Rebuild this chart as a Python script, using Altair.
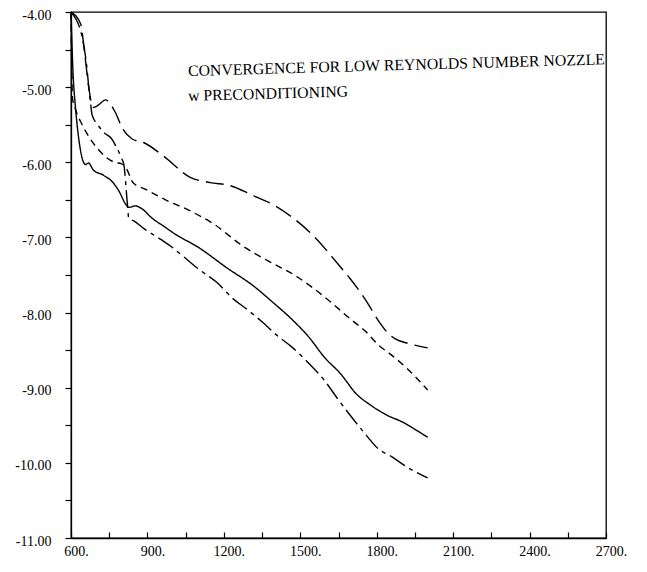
import altair as alt
import pandas as pd

# ---- data ----
long_it = [600, 638, 654, 670, 687, 707, 735, 773, 802, 840, 887, 964, 1068, 1146, 1224,
           1313, 1402, 1479, 1555, 1647, 1696, 1760, 1809, 1846, 1873, 1924, 2000]
long_res = [-4.0, -4.16, -4.56, -5.01, -5.27, -5.24, -5.17, -5.33, -5.55, -5.69, -5.74, -5.92,
            -6.20, -6.27, -6.31, -6.44, -6.58, -6.76, -6.99, -7.35, -7.55, -7.85, -8.12,
            -8.28, -8.35, -8.41, -8.47]

short_it = [600, 606, 618, 644, 674, 705, 744, 771, 799, 817, 843, 893, 971, 1064, 1164,
            1268, 1372, 1472, 1549, 1626, 1691, 1756, 1806, 1856, 1921, 2000]
short_res = [-4.0, -5.15, -5.30, -5.50, -5.68, -5.82, -5.95, -6.00, -6.02, -6.08, -6.27,
             -6.36, -6.50, -6.64, -6.83, -7.10, -7.31, -7.49, -7.67, -7.88, -8.07, -8.25,
             -8.43, -8.56, -8.75, -9.03]

solid_it = [600, 611, 657, 669, 687, 726, 765, 791, 813, 828, 852, 879, 917, 968, 1006,
            1099, 1214, 1314, 1391, 1467, 1532, 1596, 1657, 1722, 1771, 1837, 1903, 1953, 2000]
solid_res = [-4.0, -5.0, -6.03, -6.01, -6.10, -6.17, -6.27, -6.40, -6.55, -6.60, -6.58,
             -6.62, -6.74, -6.86, -6.95, -7.13, -7.41, -7.64, -7.86, -8.09, -8.32, -8.60,
             -8.81, -9.09, -9.22, -9.36, -9.46, -9.56, -9.66]

dd_it = [600, 644, 661, 670, 676, 683, 705, 731, 758, 780, 799, 807, 821, 827, 846, 889,
         954, 993, 1043, 1108, 1173, 1234, 1288, 1349, 1414, 1464, 1529, 1594, 1643, 1692,
         1756, 1805, 1860, 1921, 2000]
dd_res = [-4.0, -4.34, -4.70, -5.01, -5.19, -5.37, -5.50, -5.61, -5.68, -5.81, -5.95, -6.02,
          -6.54, -6.75, -6.78, -6.89, -7.03, -7.12, -7.26, -7.44, -7.60, -7.81, -7.95, -8.12,
          -8.32, -8.45, -8.66, -8.90, -9.13, -9.35, -9.62, -9.81, -9.92, -10.06, -10.20]

series_names = ["long dash", "short dash", "solid", "dash dot"]
x_ticks = [600, 750, 900, 1050, 1200, 1350, 1500, 1650, 1800, 1950, 2100, 2250, 2400, 2550, 2700]
y_ticks = [-11.0, -10.5, -10.0, -9.5, -9.0, -8.5, -8.0, -7.5, -7.0, -6.5, -6.0, -5.5, -5.0, -4.5, -4.0]
title_line1 = "CONVERGENCE FOR LOW REYNOLDS NUMBER NOZZLE"
title_line2 = "w PRECONDITIONING"

frames = []
for name, xs, ys in zip(series_names,
                        [long_it, short_it, solid_it, dd_it],
                        [long_res, short_res, solid_res, dd_res]):
    frames.append(pd.DataFrame({"iter": xs, "res": ys, "case": name, "ord": range(len(xs))}))
df = pd.concat(frames, ignore_index=True)

FONT = "Liberation Serif"

x_axis = alt.Axis(values=x_ticks, title=None, grid=False,
                  labelExpr="datum.value % 300 == 0 ? format(datum.value, 'd') + '.' : ''",
                  tickSize={"expr": "-6"}, labelPadding=12, labelOffset=5,
                  labelAlign="center", labelBaseline="top")
y_axis = alt.Axis(values=y_ticks, title=None, grid=False,
                  labelExpr="datum.value % 1 == 0 ? (datum.value < 0 ? '-' : '') + format(abs(datum.value), '.2f') : ''",
                  tickSize=6, labelPadding=14, labelOffset=3)

lines = alt.Chart(df).mark_line(color="black", strokeWidth=1.4, interpolate="monotone").encode(
    x=alt.X("iter:Q", scale=alt.Scale(domain=[600, 2700], nice=False, zero=False), axis=x_axis),
    y=alt.Y("res:Q", scale=alt.Scale(domain=[-11, -4], nice=False, zero=False), axis=y_axis),
    strokeDash=alt.StrokeDash("case:N", legend=None,
                              scale=alt.Scale(domain=series_names,
                                              range=[[18, 7], [7, 5], [1, 0], [18, 5, 4, 5]])),
    detail="case:N",
    order="ord:Q",
)

t1 = alt.Chart(pd.DataFrame({"t": [title_line1]})).mark_text(
    align="left", baseline="middle", font=FONT, fontSize=15.8, color="black", angle=358.4
).encode(x=alt.value(117), y=alt.value(59), text="t:N")

t2 = alt.Chart(pd.DataFrame({"t": [title_line2]})).mark_text(
    align="left", baseline="middle", font=FONT, fontSize=15.8, color="black", angle=358.4
).encode(x=alt.value(117), y=alt.value(84), text="t:N")

chart = alt.layer(lines, t1, t2).properties(
    width=535, height=526,
    autosize=alt.AutoSizeParams(type="none"),
    padding={"left": 71, "top": 12, "right": 41, "bottom": 34},
    background="white",
).configure_view(
    stroke="black", strokeWidth=1.3
).configure_axis(
    domainColor="black", domainWidth=1.3, tickColor="black", tickWidth=1.2,
    labelColor="black", labelFont=FONT, labelFontSize=14,
)

chart.save("out.html", embed_options={"renderer": "svg", "actions": False})
